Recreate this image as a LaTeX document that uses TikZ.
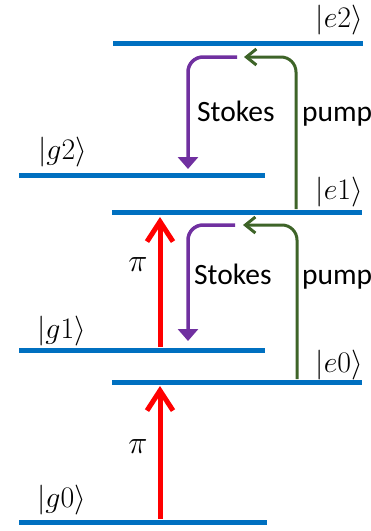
\documentclass[tikz,border=0pt]{standalone}
\usepackage{graphicx}
\usepackage{fontspec}
\setmainfont{Carlito}
\usetikzlibrary{arrows.meta}
\definecolor{lvl}{RGB}{0,112,192}
\definecolor{pur}{RGB}{112,48,160}
\definecolor{grn}{RGB}{62,100,40}
\newcommand{\myket}[1]{\scalebox{1.2}{$|#1\rangle$}}
\newcommand{\mypi}{\scalebox{1.3}{$\pi$}}
\begin{document}
\begin{tikzpicture}[x=1pt,y=-1pt,
  level/.style={draw=lvl,line width=5pt},
  ket/.style={inner sep=0pt,font=\fontsize{24.88}{28}\selectfont},
  lbl/.style={inner sep=0pt,anchor=base west,font=\fontsize{29.5}{32}\selectfont},
  piarrow/.style={draw=red,line width=5pt,-{Straight Barb[length=20pt,width=26pt]}},
  stokes/.style={draw=pur,line width=3.5pt,rounded corners=15pt,-{Triangle[length=12pt,width=20pt]}},
  pump/.style={draw=grn,line width=3pt,rounded corners=15pt,-{Straight Barb[length=10pt,width=16pt]}}]
\useasboundingbox (0,0) rectangle (371,531);
% levels
\coordinate (e2L) at (113,43);  \coordinate (e2R) at (363,43);
\coordinate (g2L) at (19,175);  \coordinate (g2R) at (265,175);
\coordinate (e1L) at (112,212); \coordinate (e1R) at (362,212);
\coordinate (g1L) at (19,350);  \coordinate (g1R) at (265,350);
\coordinate (e0L) at (112,382); \coordinate (e0R) at (362,382);
\coordinate (g0L) at (19,522);  \coordinate (g0R) at (267,522);
\draw[level] (e2L) -- (e2R);
\draw[level] (g2L) -- (g2R);
\draw[level] (e1L) -- (e1R);
\draw[level] (g1L) -- (g1R);
\draw[level] (e0L) -- (e0R);
\draw[level] (g0L) -- (g0R);
% labels
\node[ket,anchor=east] (ke2) at (363,20) {\myket{e2}};
\node[ket,anchor=west] (kg2) at (38,152) {\myket{g2}};
\node[ket,anchor=east] (ke1) at (363,192) {\myket{e1}};
\node[ket,anchor=west] (kg1) at (37,331) {\myket{g1}};
\node[ket,anchor=east] (ke0) at (363,365) {\myket{e0}};
\node[ket,anchor=west] (kg0) at (37,500) {\myket{g0}};
% pi arrows
\coordinate (p1s) at (160,519); \coordinate (p1e) at (160,386);
\coordinate (p2s) at (160,347); \coordinate (p2e) at (160,217);
\draw[piarrow] (p1s) -- (p1e);
\draw[piarrow] (p2s) -- (p2e);
\node[ket] (pi1) at (138,447) {\mypi};
\node[ket] (pi2) at (138,265) {\mypi};
% Stokes arrows
\coordinate (s2s) at (237,57); \coordinate (s2e) at (188,169);
\coordinate (s1s) at (235,225); \coordinate (s1e) at (188,341);
\draw[stokes] (s2s) -| (s2e);
\draw[stokes] (s1s) -| (s1e);
\node[lbl] (st2) at (197,121) {Stokes};
\node[lbl] (st1) at (194,284) {Stokes};
% pump arrows
\coordinate (u2s) at (296,209); \coordinate (u2e) at (244,57);
\coordinate (u1s) at (297,379); \coordinate (u1e) at (243,225);
\draw[pump] (u2s) |- (u2e);
\draw[pump] (u1s) |- (u1e);
\node[lbl] (pu2) at (302,121) {pump};
\node[lbl] (pu1) at (302,284) {pump};
\end{tikzpicture}
\end{document}
